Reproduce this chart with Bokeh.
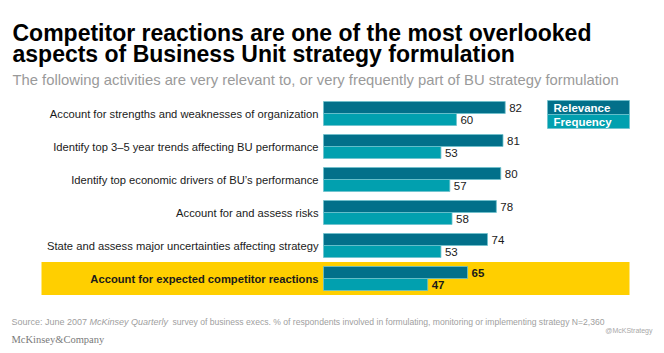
from bokeh.plotting import figure
from bokeh.models import Range1d, Label, ColumnDataSource
from bokeh.core.properties import value
from bokeh.embed import file_html
from bokeh.resources import INLINE

# ---- data ----
categories = [
    "Account for strengths and weaknesses of organization",
    "Identify top 3\u20135 year trends affecting BU performance",
    "Identify top economic drivers of BU\u2019s performance",
    "Account for and assess risks",
    "State and assess major uncertainties affecting strategy",
    "Account for expected competitor reactions",
]
relevance = [82, 81, 80, 78, 74, 65]
frequency = [60, 53, 57, 58, 53, 47]
series_names = ["Relevance", "Frequency"]
highlight = "Account for expected competitor reactions"

title_lines = [
    "Competitor reactions are one of the most overlooked",
    "aspects of Business Unit strategy formulation",
]
subtitle = "The following activities are very relevant to, or very frequently part of BU strategy formulation"

# ---- styles ----
C_REL = "#02708A"
C_FRQ = "#01A0AF"
C_EDGE = "#6FC2CD"
C_YEL = "#FFCF00"
FONT = "Liberation Sans"

W, H = 664, 353
PX_PER_UNIT = 2.216
X0 = 323          # pixel position of value 0
GROUP_PITCH = 33  # pixels per category
Y0 = 113          # pixel position of first category center

x_start = -X0 / PX_PER_UNIT
x_end = (W - X0) / PX_PER_UNIT
y_top = -Y0 / GROUP_PITCH
y_bot = (H - Y0) / GROUP_PITCH

p = figure(width=W, height=H, output_backend="svg", toolbar_location=None,
           x_range=Range1d(x_start, x_end), y_range=Range1d(y_bot, y_top),
           x_axis_location=None, y_axis_location=None, min_border=0)
p.outline_line_color = None
p.grid.visible = False
p.background_fill_color = "white"
p.border_fill_color = "white"

idx = list(range(len(categories)))
bar_h = 12 / GROUP_PITCH
hi = categories.index(highlight)
styles = ["bold" if c == highlight else "normal" for c in categories]

# highlight band
p.hbar(y=[hi], left=[(41 - X0) / PX_PER_UNIT], right=[(629 - X0) / PX_PER_UNIT],
       height=1.0, fill_color=C_YEL, line_color=None)

src = ColumnDataSource(dict(
    y=idx, cat=categories, rel=relevance, frq=frequency, style=styles,
    y_rel=[i - bar_h / 2 for i in idx], y_frq=[i + bar_h / 2 for i in idx],
    rel_txt=[str(v) for v in relevance], frq_txt=[str(v) for v in frequency],
))

p.hbar(y="y_rel", left=0, right="rel", height=bar_h, source=src,
       fill_color=C_REL, line_color=C_EDGE, line_width=0.8)
p.hbar(y="y_frq", left=0, right="frq", height=bar_h, source=src,
       fill_color=C_FRQ, line_color=C_EDGE, line_width=0.8)

# category labels
p.text(x=0, y="y", text="cat", source=src, x_offset=-5,
       text_align="right", text_baseline="middle",
       text_font=value(FONT), text_font_size="11.2px",
       text_font_style="style", text_color="#1a1a1a")

# value labels
p.text(x="rel", y="y_rel", text="rel_txt", source=src, x_offset=4,
       text_align="left", text_baseline="middle",
       text_font=value(FONT), text_font_size="11.5px",
       text_font_style="style", text_color="#1a1a1a")
p.text(x="frq", y="y_frq", text="frq_txt", source=src, x_offset=4,
       text_align="left", text_baseline="middle",
       text_font=value(FONT), text_font_size="11.5px",
       text_font_style="style", text_color="#1a1a1a")

# legend (colored boxes with white text)
lx0 = (547 - X0) / PX_PER_UNIT
lx1 = (629 - X0) / PX_PER_UNIT
leg_h = 14 / GROUP_PITCH
leg_y = [-leg_h / 2 + 1 / GROUP_PITCH, leg_h / 2 + 1 / GROUP_PITCH]
leg_src = ColumnDataSource(dict(y=leg_y, name=series_names, color=[C_REL, C_FRQ]))
p.hbar(y="y", left=lx0, right=lx1, height=leg_h, source=leg_src,
       fill_color="color", line_color=C_EDGE, line_width=0.8)
p.text(x=lx0, y="y", text="name", source=leg_src, x_offset=6,
       text_align="left", text_baseline="middle",
       text_font=value(FONT), text_font_size="11.5px",
       text_font_style="bold", text_color="white")

def lab(text, x, y_from_top, size, color="#000000", style="normal", font=FONT,
        baseline="alphabetic", align="left"):
    p.add_layout(Label(x=x, y=H - y_from_top, x_units="screen", y_units="screen",
                       text=text, text_font=font, text_font_size=size,
                       text_font_style=style, text_color=color,
                       text_baseline=baseline, text_align=align))

lab(title_lines[0], 12, 32, "23px", "#000000", "bold")
lab(title_lines[1], 12, 53.5, "23px", "#000000", "bold")
lab(subtitle, 12, 79, "14.8px", "#9a9a9a")

src_parts = ["Source: June 2007", "McKinsey Quarterly",
             "survey of business execs.  % of respondents involved in formulating, monitoring or implementing strategy N=2,360"]
lab(src_parts[0], 11, 321, "9px", "#a0a0a0")
lab(src_parts[1], 89, 321, "9px", "#a0a0a0", "italic")
lab(src_parts[2], 172, 321, "8.6px", "#a0a0a0")

lab("McKinsey&Company", 11, 339, "10.5px", "#7a7a7a", font="Liberation Serif")
lab("@McKStrategy", 652, 330, "7px", "#a8a8a8", align="right")

open("out.html", "w").write(file_html(p, INLINE))
